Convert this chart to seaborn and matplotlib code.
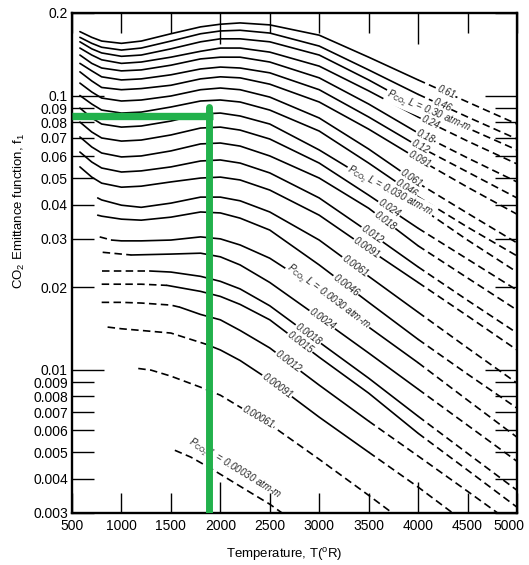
import numpy as np
import pandas as pd
import matplotlib
matplotlib.use("Agg")
import matplotlib.pyplot as plt
import matplotlib.transforms as mtransforms
import seaborn as sns
from matplotlib.ticker import FixedLocator, FixedFormatter, NullLocator

# ---------------- data ----------------
pl_values = ["0.61", "0.46", "0.30", "0.24", "0.18", "0.12", "0.091", "0.061",
             "0.046", "0.030", "0.024", "0.018", "0.012", "0.0091", "0.0061",
             "0.0046", "0.0030", "0.0024", "0.0018", "0.0015", "0.0012",
             "0.00091", "0.00061", "0.00030"]

T_upper = [580, 700, 800, 1000, 1200, 1500, 1800, 2000, 2200, 2500, 3000, 3500, 4000, 4500, 5000]
f_0_61 = [0.171, 0.163, 0.158, 0.155, 0.158, 0.168, 0.178, 0.182, 0.184, 0.181, 0.166, 0.138, 0.114, 0.0947, 0.0787]
f_0_46 = [0.163, 0.155, 0.150, 0.1465, 0.149, 0.158, 0.168, 0.172, 0.173, 0.169, 0.1515, 0.124, 0.101, 0.0835, 0.0694]
f_0_30 = [0.157, 0.148, 0.143, 0.139, 0.1405, 0.148, 0.157, 0.161, 0.161, 0.157, 0.1405, 0.114, 0.0908, 0.0761, 0.0633]
f_0_24 = [0.149, 0.1405, 0.135, 0.131, 0.1325, 0.138, 0.145, 0.149, 0.149, 0.144, 0.128, 0.104, 0.0835, 0.0682, 0.0563]
f_0_18 = [0.1405, 0.131, 0.126, 0.123, 0.124, 0.129, 0.136, 0.138, 0.138, 0.1325, 0.116, 0.0931, 0.0730, 0.0592, 0.0484]
f_0_12 = [0.131, 0.123, 0.117, 0.114, 0.115, 0.119, 0.125, 0.127, 0.126, 0.121, 0.105, 0.0835, 0.0654, 0.0526, 0.0423]
f_0_091 = [0.122, 0.113, 0.107, 0.105, 0.106, 0.109, 0.115, 0.117, 0.116, 0.110, 0.0947, 0.0754, 0.0587, 0.0463, 0.0369]
f_0_061 = [0.111, 0.103, 0.0979, 0.0955, 0.0963, 0.0996, 0.105, 0.1065, 0.105, 0.0987, 0.0828, 0.0638, 0.0479, 0.0372, 0.0290]
f_0_046 = [0.100, 0.0931, 0.0885, 0.0863, 0.0870, 0.0908, 0.0955, 0.0963, 0.0947, 0.0885, 0.0742, 0.0567, 0.0427, 0.0331, 0.0260]
f_0_030 = [0.0900, 0.0828, 0.0787, 0.0767, 0.0774, 0.0807, 0.0856, 0.0863, 0.0842, 0.0787, 0.0633, 0.0492, 0.0395, 0.0297, 0.0227]
f_0_024 = [0.0800, 0.0736, 0.0700, 0.0682, 0.0688, 0.0718, 0.0761, 0.0767, 0.0748, 0.0694, 0.0567, 0.0433, 0.0328, 0.0253, 0.0195]
f_0_018 = [0.0706, 0.0649, 0.0617, 0.0597, 0.0602, 0.0628, 0.0666, 0.0671, 0.0654, 0.0602, 0.0500, 0.0388, 0.0283, 0.0216, 0.0165]
f_0_012 = [0.0622, 0.0572, 0.0544, 0.0526, 0.0531, 0.0549, 0.0577, 0.0582, 0.0567, 0.0522, 0.0423, 0.0318, 0.0237, 0.0179, 0.0136]
f_0_0091 = [0.0549, 0.0504, 0.0479, 0.0463, 0.0467, 0.0484, 0.0500, 0.0504, 0.0492, 0.0452, 0.0366, 0.0275, 0.0208, 0.0157, 0.0118]

T_0_0061 = [760, 800, 1000, 1200, 1500, 1800, 2000, 2200, 2500, 3000, 3500, 4000, 4500, 5000]
f_0_0061 = [0.0423, 0.0416, 0.0398, 0.0391, 0.0405, 0.0426, 0.0426, 0.0413, 0.0376, 0.0297, 0.0219, 0.0162, 0.0120, 0.00893]
T_0_0046 = [760, 800, 1000, 1200, 1500, 1800, 2000, 2200, 2500, 3000, 3500, 4000, 4500, 5000]
f_0_0046 = [0.0366, 0.0363, 0.0354, 0.0351, 0.0360, 0.0376, 0.0373, 0.0357, 0.0323, 0.0241, 0.0176, 0.0129, 0.00963, 0.00724]
T_0_0030 = [780, 900, 1000, 1200, 1500, 1800, 2000, 2200, 2500, 3000, 3500, 4000, 4500, 5000]
f_0_0030 = [0.0305, 0.0297, 0.0295, 0.0295, 0.0297, 0.0305, 0.0300, 0.0285, 0.0255, 0.0195, 0.0143, 0.0106, 0.00774, 0.00567]
T_0_0024 = [810, 1000, 1100, 1500, 1800, 2000, 2200, 2500, 3000, 3500, 4000, 4500, 5000]
f_0_0024 = [0.0268, 0.0264, 0.0262, 0.0264, 0.0266, 0.0258, 0.0241, 0.0208, 0.0155, 0.0115, 0.00849, 0.00627, 0.00463]
T_0_0018 = [800, 1000, 1290, 1500, 1800, 2000, 2200, 2500, 3000, 3500, 4000, 4500, 5000]
f_0_0018 = [0.0229, 0.0229, 0.0229, 0.0227, 0.0219, 0.0210, 0.0197, 0.0171, 0.0126, 0.00931, 0.00676, 0.00495, 0.00363]
T_0_0015 = [800, 1000, 1200, 1460, 1800, 2000, 2200, 2500, 3000, 3500, 4000, 4500, 5000]
f_0_0015 = [0.0205, 0.0205, 0.0205, 0.0203, 0.0193, 0.0185, 0.0173, 0.0152, 0.0111, 0.00821, 0.00586, 0.00430, 0.00315]
T_0_0012 = [800, 1000, 1200, 1500, 1590, 1800, 2000, 2200, 2500, 3000, 3500, 4000, 4500, 4810]
f_0_0012 = [0.0176, 0.0176, 0.0175, 0.0172, 0.0169, 0.0159, 0.0152, 0.0139, 0.0120, 0.00878, 0.00649, 0.00484, 0.00360, 0.00299]
T_0_00091 = [860, 1000, 1200, 1500, 1850, 2000, 2200, 2500, 3000, 3500, 4000, 4355]
f_0_00091 = [0.0143, 0.0141, 0.0139, 0.0136, 0.0124, 0.0118, 0.0108, 0.00916, 0.00671, 0.00500, 0.00373, 0.00299]
T_0_00061 = [1170, 1300, 1500, 1800, 2000, 2200, 2500, 3000, 3500, 3745]
f_0_00061 = [0.0101, 0.00996, 0.00947, 0.00863, 0.00807, 0.00730, 0.00632, 0.00471, 0.00348, 0.00299]
T_0_00030 = [1540, 1700, 1900, 2100, 2300, 2500, 2630]
f_0_00030 = [0.00508, 0.00480, 0.00437, 0.00395, 0.00357, 0.00323, 0.00299]

# green reading lines (annotation)
green_T = 1890
green_f = 0.0841
green_top_f = 0.0905
green_h_end_T = 1926

x_ticks = [500, 1000, 1500, 2000, 2500, 3000, 3500, 4000, 4500, 5000]
y_ticks = [0.2, 0.1, 0.09, 0.08, 0.07, 0.06, 0.05, 0.04, 0.03, 0.02,
           0.01, 0.009, 0.008, 0.007, 0.006, 0.005, 0.004, 0.003]
y_tick_labels = ["0.2", "0.1", "0.09", "0.08", "0.07", "0.06", "0.05", "0.04", "0.03", "0.02",
                 "0.01", "0.009", "0.008", "0.007", "0.006", "0.005", "0.004", "0.003"]

curve_T = [T_upper] * 14 + [T_0_0061, T_0_0046, T_0_0030, T_0_0024, T_0_0018,
                            T_0_0015, T_0_0012, T_0_00091, T_0_00061, T_0_00030]
curve_f = [f_0_61, f_0_46, f_0_30, f_0_24, f_0_18, f_0_12, f_0_091, f_0_061,
           f_0_046, f_0_030, f_0_024, f_0_018, f_0_012, f_0_0091, f_0_0061,
           f_0_0046, f_0_0030, f_0_0024, f_0_0018, f_0_0015, f_0_0012,
           f_0_00091, f_0_00061, f_0_00030]

# ---------------- styling / placement ----------------
solid_ranges = [(580, 4000)] * 14 + [(760, 4000), (760, 4000), (900, 4000), (1100, 4000),
                                     (1290, 4000), (1460, 4000), (1590, 3500), (1850, 3500),
                                     None, None]
label_T = [4282, 4241, 4100, 4120, 4070, 4020, 4010, 3930, 3880, 3715, 3705, 3665,
           3535, 3480, 3360, 3270, 3090, 3030, 2890, 2805, 2685, 2575, 2380, 2080]
PCO2 = r"P$_{\mathrm{CO_2}}$ L = "
full_label = {"0.30": PCO2 + "0.30 atm-m", "0.030": PCO2 + "0.030 atm-m",
              "0.0030": PCO2 + "0.0030 atm-m", "0.00030": PCO2 + "0.00030 atm-m"}

sns.set_theme(style="white", rc={"text.color": "black", "axes.labelcolor": "black",
                                 "xtick.color": "black", "ytick.color": "black",
                                 "axes.edgecolor": "black"})
plt.rcParams["font.family"] = ["Liberation Sans", "DejaVu Sans"]
plt.rcParams["mathtext.fontset"] = "custom"
plt.rcParams["mathtext.rm"] = "Liberation Sans"
plt.rcParams["mathtext.it"] = "Liberation Sans:italic"
plt.rcParams["mathtext.bf"] = "Liberation Sans:bold"

W, H = 529, 565
fig = plt.figure(figsize=(W / 100, H / 100), dpi=100)
ax = fig.add_axes([72 / W, 1 - 513 / H, 445 / W, 500 / H])
ax.set_yscale("log")
ax.set_xlim(500, 5000)
ax.set_ylim(0.003, 0.2)

LW = 1.2
DASH = (0, (4.5, 2.6))

for T, f, sr in zip(curve_T, curve_f, solid_ranges):
    T = np.asarray(T, float)
    f = np.asarray(f, float)
    segs = []
    if sr is None:
        segs.append((T, f, DASH))
    else:
        t0, t1 = sr
        pre = T <= t0
        mid = (T >= t0) & (T <= t1)
        post = T >= t1
        if pre.sum() >= 2:
            segs.append((T[pre], f[pre], DASH))
        segs.append((T[mid], f[mid], "-"))
        if post.sum() >= 2:
            segs.append((T[post], f[post], DASH))
    for xs, ys, ls in segs:
        df = pd.DataFrame({"T": xs, "f": ys})
        sns.lineplot(data=df, x="T", y="f", ax=ax, color="black", lw=LW,
                     linestyle=ls, estimator=None, sort=False, legend=False,
                     zorder=2)

# inline labels
for name, T, f, tl in zip(pl_values, curve_T, curve_f, label_T):
    T = np.asarray(T, float)
    lf = np.log10(np.asarray(f, float))
    yl = 10 ** np.interp(tl, T, lf)
    d = 60
    p1 = ax.transData.transform((tl - d, 10 ** np.interp(tl - d, T, lf)))
    p2 = ax.transData.transform((tl + d, 10 ** np.interp(tl + d, T, lf)))
    ang = np.degrees(np.arctan2(p2[1] - p1[1], p2[0] - p1[0]))
    text = full_label.get(name, name)
    if name == "0.00030":
        pc = ax.transData.transform((tl, yl))
        nrm = np.array([-np.sin(np.radians(ang)), np.cos(np.radians(ang))])
        pc = pc + nrm * 11
        tx, ty = ax.transData.inverted().transform(pc)
        ax.text(tx, ty, text, rotation=ang, rotation_mode="anchor", ha="center",
                va="center", fontsize=7, style="italic", color="#222222", zorder=4)
    else:
        ax.text(tl, yl, text, rotation=ang, rotation_mode="anchor", ha="center",
                va="center", fontsize=7, style="italic", color="#222222", zorder=4,
                bbox=dict(facecolor="white", edgecolor="none", pad=0.6))

# green reading lines
gh = pd.DataFrame({"T": [500, green_h_end_T], "f": [green_f, green_f]})
gv = pd.DataFrame({"T": [green_T, green_T], "f": [green_top_f, 0.003]})
sns.lineplot(data=gh, x="T", y="f", ax=ax, color="#22B14C", lw=5.3, estimator=None,
             sort=False, legend=False, zorder=6, solid_capstyle="butt")
sns.lineplot(data=gv, x="T", y="f", ax=ax, color="#22B14C", lw=5.0, estimator=None,
             sort=False, legend=False, zorder=6, solid_capstyle="round")

# axes, ticks
ax.xaxis.set_major_locator(FixedLocator(x_ticks))
ax.xaxis.set_major_formatter(FixedFormatter([str(t) for t in x_ticks]))
ax.xaxis.set_minor_locator(NullLocator())
ax.yaxis.set_major_locator(FixedLocator(y_ticks))
ax.yaxis.set_major_formatter(FixedFormatter(y_tick_labels))
ax.yaxis.set_minor_locator(NullLocator())
ax.tick_params(axis="both", which="major", direction="in", top=True, right=True,
               bottom=True, left=True, width=1.0, labelsize=10)
ax.tick_params(axis="x", length=14.4, pad=4)
ax.tick_params(axis="y", length=15.5, pad=3)
for tk, loc in zip(ax.xaxis.get_major_ticks(), x_ticks):
    if loc in (2000, 4000):
        tk.tick1line.set_markersize(22)
        tk.tick2line.set_markersize(22)
for tk, loc in zip(ax.yaxis.get_major_ticks(), y_ticks):
    if loc in (0.1, 0.01):
        tk.tick1line.set_markersize(23)
        tk.tick2line.set_markersize(23)

for s in ax.spines.values():
    s.set_linewidth(1.7)
    s.set_color("black")

ax.set_xlabel(r"Temperature, T($^{\mathrm{o}}$R)", fontsize=9.5)
ax.set_ylabel(r"CO$_2$ Emittance function, f$_1$", fontsize=9.5)
ax.xaxis.set_label_coords(0.476, -0.066)
ax.yaxis.set_label_coords(-0.10, 0.604)
ax.grid(False)

# keep the last x tick label inside the figure (as in the reference)
fig.canvas.draw()
for lbl in ax.get_xticklabels():
    if lbl.get_text() == "5000":
        lbl.set_transform(lbl.get_transform() +
                          mtransforms.ScaledTranslation(-6 / 72, 0, fig.dpi_scale_trans))

fig.savefig("out.png", dpi=100)
